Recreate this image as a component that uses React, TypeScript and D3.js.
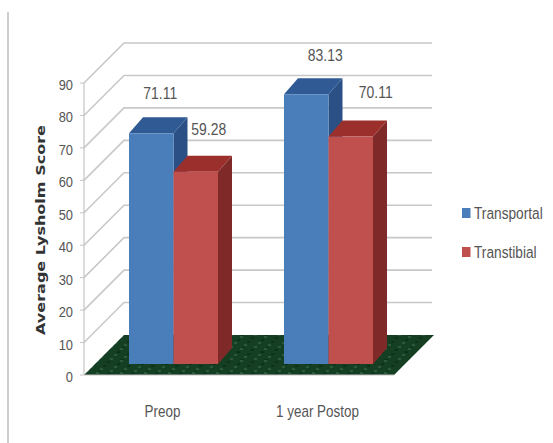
import React from "react";
import * as d3 from "d3";

const categories = ["Preop", "1 year Postop"];
const seriesNames = ["Transportal", "Transtibial"];
const transportal = [71.11, 83.13];
const transtibial = [59.28, 70.11];
const yTicks = [0, 10, 20, 30, 40, 50, 60, 70, 80, 90];
const axisTitle = "Average Lysholm Score";

const W = 553;
const H = 443;
const bodyFont = "'Liberation Sans', sans-serif";
const textColor = "#555";

// Oblique projection of the chart box: front plane plus a receding depth vector.
const front = { left: 84, right: 394, bottom: 375, top: 83 };
const depth = { dx: 40, dy: 40 };
const barInset = { dx: 12, dy: 11 };
const barDepth = { dx: 14, dy: 16 };

const palette = [
  { face: "#4a7ebb", top: "#2f5a94", side: "#2a5086" },
  { face: "#c0504d", top: "#9b2f2c", side: "#7f2a28" },
];

// Per-label nudges from the top centre of the bar's front face.
const labelNudges = [
  [[9, -34], [13, -37]],
  [[19, -33], [25, -39]],
];

const y = d3.scaleLinear().domain([0, 90]).range([front.bottom, front.top]);
const x0 = d3.scaleBand<string>().domain(categories).range([front.left, front.right]);
const barWidth = 44.5;

const pts = (p: number[][]) => p.map((q) => q.join(",")).join(" ");
const floorSpots = d3.range(0, 8);

// Horizontally condensed label: no narrow face is available, so the glyphs are squeezed.
function Condensed({ x, y: yy, size, squeeze = 0.84, anchor = "start", children }: any) {
  return (
    <text
      transform={`translate(${x},${yy}) scale(${squeeze},1)`}
      textAnchor={anchor}
      fontFamily={bodyFont}
      fontSize={size}
      fill={textColor}
    >
      {children}
    </text>
  );
}

export default function App() {
  const series = [transportal, transtibial];
  return (
    <svg width={W} height={H} style={{ position: "absolute", left: 0, top: 0, background: "#fff" }}>
      <defs>
        <pattern id="floor" width="24" height="12" patternUnits="userSpaceOnUse">
          <rect width="24" height="12" fill="#143f22" />
          {floorSpots.map((i) => (
            <rect key={i} x={(i * 7) % 24} y={(i * 5) % 12} width="3" height="2"
              fill={i % 2 ? "#0d3019" : "#2a5a3a"} />
          ))}
        </pattern>
      </defs>

      <line x1={8} x2={8} y1={12} y2={H} stroke="#bdbdbd" strokeWidth={1.5} />

      {/* floor */}
      <polygon
        points={pts([
          [front.left, front.bottom],
          [front.right, front.bottom],
          [front.right + depth.dx, front.bottom - depth.dy],
          [front.left + depth.dx, front.bottom - depth.dy],
        ])}
        fill="url(#floor)"
      />

      {/* walls' gridlines and the value axis */}
      {yTicks.map((t) =>
        t === 0 ? null : (
          <polyline
            key={t}
            points={pts([
              [front.left, y(t)],
              [front.left + depth.dx, y(t) - depth.dy],
              [front.right + depth.dx - 2, y(t) - depth.dy],
            ])}
            fill="none"
            stroke="#c8c8c8"
            strokeWidth={1.6}
          />
        )
      )}
      <line x1={front.left} x2={front.left} y1={y(90)} y2={y(0)} stroke="#c4c4c4" strokeWidth={1.2} />
      <line x1={front.left} x2={front.right} y1={y(0)} y2={y(0)} stroke="#c4c4c4" strokeWidth={1.2} />
      {yTicks.map((t) => (
        <g key={t}>
          <line x1={front.left - 4} x2={front.left} y1={y(t)} y2={y(t)} stroke="#c4c4c4" />
          <Condensed x={73} y={y(t) + 7} size={15} squeeze={0.86} anchor="end">
            {t}
          </Condensed>
        </g>
      ))}

      {/* bars, drawn as extruded prisms */}
      {categories.map((c, ci) => {
        const centre = x0(c)! + x0.bandwidth() / 2 + barInset.dx;
        return series.map((values, si) => {
          const v = values[ci];
          const left = centre + (si - 1) * barWidth;
          const right = left + barWidth;
          const base = y(0) - barInset.dy;
          const top = y(v) - barInset.dy;
          const col = palette[si];
          const [nx, ny] = labelNudges[ci][si];
          return (
            <g key={c + si}>
              <polygon
                points={pts([
                  [right, top],
                  [right + barDepth.dx, top - barDepth.dy],
                  [right + barDepth.dx, base - barDepth.dy],
                  [right, base],
                ])}
                fill={col.side}
              />
              <polygon
                points={pts([
                  [left, top],
                  [left + barDepth.dx, top - barDepth.dy],
                  [right + barDepth.dx, top - barDepth.dy],
                  [right, top],
                ])}
                fill={col.top}
              />
              <rect x={left} y={top} width={barWidth} height={base - top} fill={col.face} />
              <Condensed x={left + barWidth / 2 + nx} y={top + ny} size={16} squeeze={0.87} anchor="middle">
                {v.toFixed(2)}
              </Condensed>
            </g>
          );
        });
      })}

      {/* category labels */}
      {categories.map((c) => (
        <Condensed key={c} x={x0(c)! + x0.bandwidth() / 2 + 1} y={417} size={16} squeeze={0.84} anchor="middle">
          {c}
        </Condensed>
      ))}

      {/* axis title */}
      <text
        transform="translate(45,230) rotate(-90)"
        textAnchor="middle"
        fontFamily="'DejaVu Sans', sans-serif"
        fontWeight="bold"
        fontSize={13}
        textLength={210}
        lengthAdjust="spacingAndGlyphs"
        fill="#333"
      >
        {axisTitle}
      </text>

      {/* legend */}
      {seriesNames.map((name, i) => (
        <g key={name}>
          <rect x={462} y={208 + i * 39} width={8.5} height={10} fill={palette[i].face} />
          <Condensed x={474} y={219 + i * 39} size={16.5} squeeze={0.83}>
            {name}
          </Condensed>
        </g>
      ))}
    </svg>
  );
}
